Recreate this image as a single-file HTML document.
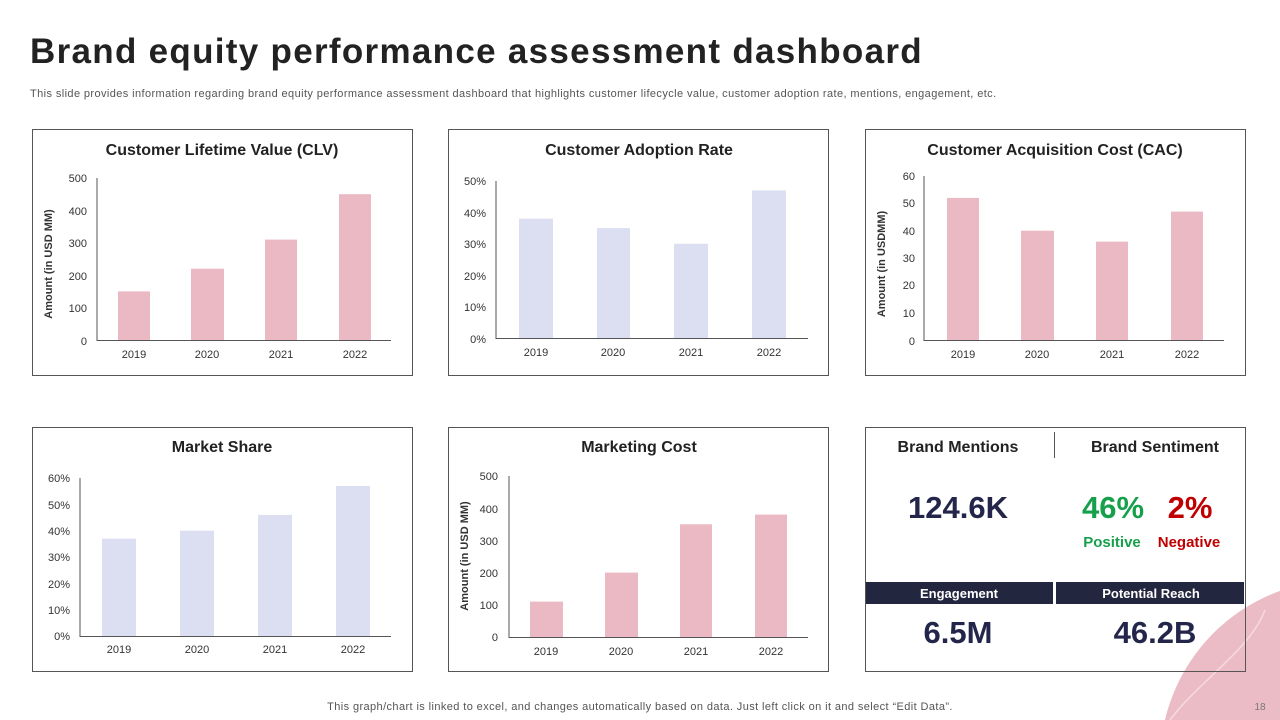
<!DOCTYPE html>
<html><head><meta charset="utf-8"><style>
html,body{margin:0;padding:0;background:#fff;width:1280px;height:720px;overflow:hidden}
svg{display:block;overflow:hidden;font-family:"Liberation Sans",Arial,sans-serif}
</style></head><body>
<svg width="1280" height="720" viewBox="0 0 1280 720" xmlns="http://www.w3.org/2000/svg">
<circle cx="1342" cy="762" r="182" fill="#ecbcc6"/>
<path d="M1170 720 C1200 680 1250 650 1265 610" stroke="#f5dbe0" stroke-width="1.5" fill="none"/>
<text x="30" y="63" font-size="35" font-weight="bold" fill="#222" letter-spacing="1.3">Brand equity performance assessment dashboard</text>
<text x="30" y="97" font-size="11" fill="#555" letter-spacing="0.4">This slide provides information regarding brand equity performance assessment dashboard that highlights customer lifecycle value, customer adoption rate, mentions, engagement, etc.</text>

<g fill="none" stroke="#555" stroke-width="1">
<rect x="32.5" y="129.5" width="380" height="246"/>
<rect x="448.5" y="129.5" width="380" height="246"/>
<rect x="865.5" y="129.5" width="380" height="246"/>
<rect x="32.5" y="427.5" width="380" height="244"/>
<rect x="448.5" y="427.5" width="380" height="244"/>
<rect x="865.5" y="427.5" width="380" height="244"/>
</g>

<g font-size="16" font-weight="bold" fill="#222" text-anchor="middle">
<text x="222" y="155">Customer Lifetime Value (CLV)</text>
<text x="639" y="155">Customer Adoption Rate</text>
<text x="1055" y="155">Customer Acquisition Cost (CAC)</text>
<text x="222" y="452">Market Share</text>
<text x="639" y="452">Marketing Cost</text>
<text x="958" y="452">Brand Mentions</text>
<text x="1155" y="452">Brand Sentiment</text>
</g>

<g stroke="#555" stroke-width="1" fill="none">
<path d="M97 178V340.5H391"/>
<path d="M496 181V338.5H808"/>
<path d="M924 176V340.5H1224"/>
<path d="M80 478V636.5H391"/>
<path d="M509 476V637.5H808"/>
<path d="M1054.5 432V458"/>
</g>

<g font-size="11" fill="#333">
<g text-anchor="end">
<text x="87" y="182">500</text><text x="87" y="215">400</text><text x="87" y="247">300</text><text x="87" y="280">200</text><text x="87" y="312">100</text><text x="87" y="345">0</text>
<text x="486" y="185">50%</text><text x="486" y="217">40%</text><text x="486" y="248">30%</text><text x="486" y="280">20%</text><text x="486" y="311">10%</text><text x="486" y="343">0%</text>
<text x="915" y="180">60</text><text x="915" y="207">50</text><text x="915" y="235">40</text><text x="915" y="262">30</text><text x="915" y="289">20</text><text x="915" y="317">10</text><text x="915" y="345">0</text>
<text x="70" y="482">60%</text><text x="70" y="509">50%</text><text x="70" y="535">40%</text><text x="70" y="561">30%</text><text x="70" y="588">20%</text><text x="70" y="614">10%</text><text x="70" y="640">0%</text>
<text x="498" y="480">500</text><text x="498" y="513">400</text><text x="498" y="545">300</text><text x="498" y="577">200</text><text x="498" y="609">100</text><text x="498" y="641">0</text>
</g>
<g text-anchor="middle">
<text x="134" y="358">2019</text><text x="207" y="358">2020</text><text x="281" y="358">2021</text><text x="355" y="358">2022</text>
<text x="536" y="356">2019</text><text x="613" y="356">2020</text><text x="691" y="356">2021</text><text x="769" y="356">2022</text>
<text x="963" y="358">2019</text><text x="1037" y="358">2020</text><text x="1112" y="358">2021</text><text x="1187" y="358">2022</text>
<text x="119" y="653">2019</text><text x="197" y="653">2020</text><text x="275" y="653">2021</text><text x="353" y="653">2022</text>
<text x="546" y="655">2019</text><text x="621" y="655">2020</text><text x="696" y="655">2021</text><text x="771" y="655">2022</text>
</g>
<g font-weight="bold" font-size="11" text-anchor="middle">
<text transform="translate(52,264) rotate(-90)">Amount  (in USD MM)</text>
<text transform="translate(885,264) rotate(-90)">Amount  (in USDMM)</text>
<text transform="translate(468,556) rotate(-90)">Amount  (in USD MM)</text>
</g>
</g>

<g fill="#ebb9c3">
<rect x="118" y="291.4" width="32" height="48.6"/>
<rect x="191" y="268.7" width="33" height="71.3"/>
<rect x="265" y="239.6" width="32" height="100.4"/>
<rect x="339" y="194.2" width="32" height="145.8"/>
<rect x="947" y="197.9" width="32" height="142.1"/>
<rect x="1021" y="230.7" width="33" height="109.3"/>
<rect x="1096" y="241.6" width="32" height="98.4"/>
<rect x="1171" y="211.6" width="32" height="128.4"/>
<rect x="530" y="601.6" width="33" height="35.4"/>
<rect x="605" y="572.6" width="33" height="64.4"/>
<rect x="680" y="524.3" width="32" height="112.7"/>
<rect x="755" y="514.6" width="32" height="122.4"/>
</g>
<g fill="#dcdff2">
<rect x="519" y="218.7" width="34" height="119.3"/>
<rect x="597" y="228.1" width="33" height="109.9"/>
<rect x="674" y="243.8" width="34" height="94.2"/>
<rect x="752" y="190.4" width="34" height="147.6"/>
<rect x="102" y="538.6" width="34" height="97.4"/>
<rect x="180" y="530.7" width="34" height="105.3"/>
<rect x="258" y="514.9" width="34" height="121.1"/>
<rect x="336" y="486" width="34" height="150"/>
</g>

<g font-weight="bold" text-anchor="middle">
<text x="958" y="518" font-size="31" fill="#23264a">124.6K</text>
<text x="1113" y="518" font-size="31" fill="#17a04c">46%</text>
<text x="1190" y="518" font-size="31" fill="#c00000">2%</text>
<text x="1112" y="547" font-size="15" fill="#17a04c">Positive</text>
<text x="1189" y="547" font-size="15" fill="#c00000">Negative</text>
<rect x="866" y="582" width="187" height="22" fill="#23263f"/>
<rect x="1056" y="582" width="188" height="22" fill="#23263f"/>
<text x="959" y="598" font-size="13" fill="#fff">Engagement</text>
<text x="1151" y="598" font-size="13" fill="#fff">Potential Reach</text>
<text x="958" y="643" font-size="31" fill="#23264a">6.5M</text>
<text x="1155" y="643" font-size="31" fill="#23264a">46.2B</text>
</g>

<text x="640" y="710" font-size="11" fill="#555" text-anchor="middle" letter-spacing="0.4">This graph/chart is linked to excel,  and changes automatically based on data. Just left click on it and select “Edit Data”.</text>
<text x="1260" y="710" font-size="10" fill="#777" text-anchor="middle">18</text>
</svg>
</body></html>
